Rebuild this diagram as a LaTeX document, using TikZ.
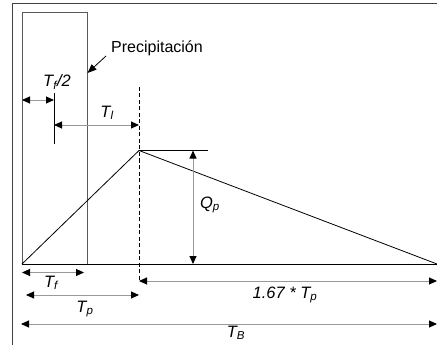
\documentclass[tikz,border=0pt]{standalone}
\usepackage{fontspec}
\setmainfont{Liberation Sans}
\usetikzlibrary{arrows.meta}
\tikzset{
  dim/.style={draw=black!40, line width=0.9pt, {Triangle[length=8pt,width=7pt,color=black]}-{Triangle[length=8pt,width=7pt,color=black]}},
  lbl/.style={font=\fontsize{16.5}{18}\selectfont\itshape, inner sep=0pt},
  thin line/.style={draw=black, line width=0.8pt},
}
\begin{document}
\begin{tikzpicture}[x=1pt,y=-1pt]
\useasboundingbox (0,0) rectangle (437,345);
% frame
\draw[black!75, line width=1pt] (12,345) -- (12,3.5) -- (437,3.5);
% precipitation rectangle
\draw[black!65, line width=0.9pt] (22,264) -- (22,12) -- (87,12) -- (87,264);
% axes and hydrograph
\coordinate (o) at (22,264);
\coordinate (pk) at (139,150.5);
\coordinate (end) at (437,264);
\draw[thin line, line width=1pt] (o) -- (end);
\draw[thin line] (o) -- (pk) -- (end);
\draw[thin line] (pk) -- (208,150.5);
\draw[thin line, dashed, dash pattern=on 4pt off 2.5pt] (139,87) -- (139,281);
% Tf/2 tick
\coordinate (tk) at (54,93);
\draw[thin line] (tk) -- (54,144);
% Precipitacion
\node[font=\fontsize{16}{18}\selectfont, inner sep=0pt] (prec) at (157,48) {Precipitación};
\coordinate (pa) at (106,56);
\coordinate (pb) at (87.5,73);
\draw[line width=0.8pt, -{Triangle[length=9pt,width=7pt]}] (pa) -- (pb);
% dimension arrows
\draw[dim] (22,100) -- (54,100);
\node[lbl] (tf2) at (57,82) {T\textsubscript{f}/2};
\draw[dim] (54,125) -- (139,125);
\node[lbl] (tl) at (107,113) {T\textsubscript{l}};
\draw[dim] (193,150.5) -- (193,264);
\node[lbl] (qp) at (210,205) {Q\textsubscript{p}};
\draw[dim] (22,272.5) -- (84,272.5);
\node[lbl] (tf) at (51,283) {T\textsubscript{f}};
\draw[dim] (26,295) -- (139,295);
\node[lbl] (tp) at (85,309) {T\textsubscript{p}};
\draw[dim] (139,281) -- (437,281);
\node[lbl] (t167) at (285,295) {1.67 * T\textsubscript{p}};
\draw[dim] (21,324) -- (437,324);
\node[lbl] (tb) at (236,333) {T\textsubscript{B}};
\end{tikzpicture}
\end{document}
